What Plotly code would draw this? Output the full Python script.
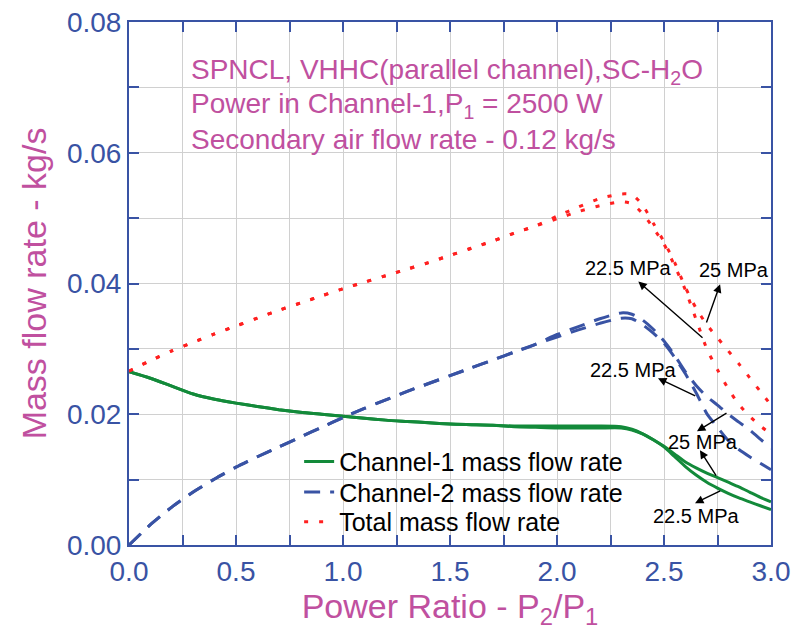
import plotly.graph_objects as go

# ---------------- data ----------------
power_ratio = [0.0, 0.1, 0.2, 0.3, 0.4, 0.5, 0.6, 0.7, 0.8, 0.9, 1.0, 1.1, 1.2, 1.3, 1.4, 1.5,
               1.6, 1.7, 1.8, 1.9, 2.0, 2.1, 2.2, 2.3, 2.35, 2.4, 2.45, 2.5, 2.55, 2.6, 2.65,
               2.7, 2.75, 2.8, 2.85, 2.9, 2.95, 3.0]

ch1_225 = [0.0265, 0.0255, 0.0243, 0.0231, 0.0223, 0.0217, 0.0212, 0.0207, 0.0203, 0.0200,
           0.0197, 0.0194, 0.0191, 0.0189, 0.0187, 0.0185, 0.0184, 0.0183, 0.0182, 0.0182,
           0.0182, 0.0182, 0.0182, 0.0181, 0.0177, 0.0170, 0.0161, 0.0150, 0.0135, 0.0120,
           0.0107, 0.0096, 0.0087, 0.0079, 0.0072, 0.0066, 0.0060, 0.0054]
ch1_25 = [0.0265, 0.0255, 0.0243, 0.0231, 0.0223, 0.0217, 0.0212, 0.0207, 0.0203, 0.0200,
          0.0197, 0.0194, 0.0191, 0.0189, 0.0187, 0.0185, 0.0184, 0.0183, 0.0181, 0.0180,
          0.0179, 0.0179, 0.0179, 0.0179, 0.0176, 0.0170, 0.0161, 0.0151, 0.0139, 0.0127,
          0.0118, 0.0110, 0.0103, 0.0096, 0.0089, 0.0081, 0.0073, 0.0066]

ch2_225 = [0.0, 0.0031, 0.0058, 0.0081, 0.0101, 0.0119, 0.0135, 0.0150, 0.0165, 0.0180,
           0.0195, 0.0209, 0.0222, 0.0235, 0.0247, 0.0259, 0.0271, 0.0283, 0.0295, 0.0307,
           0.0318, 0.0329, 0.0339, 0.0347, 0.0346, 0.0337, 0.0324, 0.0309, 0.0287, 0.0262,
           0.0233, 0.0201, 0.0180, 0.0160, 0.0146, 0.0135, 0.0125, 0.0115]
ch2_25 = [0.0, 0.0031, 0.0058, 0.0081, 0.0101, 0.0119, 0.0135, 0.0150, 0.0165, 0.0180,
          0.0195, 0.0209, 0.0222, 0.0235, 0.0247, 0.0259, 0.0271, 0.0283, 0.0295, 0.0307,
          0.0322, 0.0334, 0.0346, 0.0355, 0.0353, 0.0344, 0.0330, 0.0312, 0.0290, 0.0265,
          0.0244, 0.0227, 0.0214, 0.0200, 0.0188, 0.0176, 0.0162, 0.0148]

tot_225 = [0.0266, 0.0282, 0.0297, 0.0310, 0.0323, 0.0335, 0.0347, 0.0359, 0.0370, 0.0381,
           0.0392, 0.0402, 0.0412, 0.0422, 0.0432, 0.0443, 0.0454, 0.0465, 0.0477, 0.0488,
           0.0499, 0.0510, 0.0519, 0.0525, 0.0522, 0.0507, 0.0485, 0.0460, 0.0427, 0.0390,
           0.0345, 0.0300, 0.0268, 0.0239, 0.0215, 0.0197, 0.0182, 0.0170]
tot_25 = [0.0266, 0.0282, 0.0297, 0.0310, 0.0323, 0.0335, 0.0347, 0.0359, 0.0370, 0.0381,
          0.0392, 0.0402, 0.0412, 0.0422, 0.0432, 0.0443, 0.0454, 0.0465, 0.0477, 0.0488,
          0.0503, 0.0517, 0.0530, 0.0537, 0.0536, 0.0520, 0.0492, 0.0464, 0.0432, 0.0394,
          0.0362, 0.0337, 0.0317, 0.0297, 0.0277, 0.0256, 0.0235, 0.0214]

legend_names = ["Channel-1 mass flow rate", "Channel-2 mass flow rate", "Total mass flow rate"]
x_ticks = [0.0, 0.5, 1.0, 1.5, 2.0, 2.5, 3.0]
y_ticks = [0.00, 0.02, 0.04, 0.06, 0.08]

info_lines = ["SPNCL, VHHC(parallel channel),SC-H<sub>2</sub>O",
              "Power in Channel-1,P<sub>1</sub> = 2500 W",
              "Secondary air flow rate - 0.12 kg/s"]

# pressure labels: (text, x, y)
p_labels = [("22.5 MPa", 2.332, 0.0424), ("25 MPa", 2.827, 0.0420),
            ("22.5 MPa", 2.357, 0.0268), ("25 MPa", 2.680, 0.0158),
            ("22.5 MPa", 2.650, 0.0044)]
# arrows: (tail_x, tail_y, tip_x, tip_y)
p_arrows = [(2.687, 0.0315, 2.380, 0.0403), (2.696, 0.0338, 2.762, 0.0399),
            (2.653, 0.0227, 2.472, 0.0255), (2.799, 0.0203, 2.654, 0.0174),
            (2.748, 0.0104, 2.668, 0.0145), (2.770, 0.0084, 2.645, 0.0064)]

# ---------------- style ----------------
FONT = "Liberation Sans, Arial, Helvetica, sans-serif"
AX = "#3953a4"
MAG = "#c0509f"
GREEN = "#138a3a"
BLUE = "#3953a4"
RED = "#ff2020"
GRID = "#d0d0d0"

fig = go.Figure()

def add(y, color, dash, name, legend, show):
    fig.add_trace(go.Scatter(
        x=power_ratio, y=y, mode="lines", name=name, legend=legend, showlegend=show,
        line=dict(color=color, width=3, dash=dash, shape="spline", smoothing=0.6),
        hoverinfo="skip"))

add(ch1_225, GREEN, "solid", legend_names[0], "legend", True)
add(ch1_25, GREEN, "solid", legend_names[0], "legend", False)
add(ch2_225, BLUE, "16px,10px", legend_names[1], "legend2", True)
add(ch2_25, BLUE, "16px,10px", legend_names[1], "legend2", False)
add(tot_225, RED, "4px,11px", legend_names[2], "legend3", True)
add(tot_25, RED, "4px,11px", legend_names[2], "legend3", False)

annotations = []
for i, t in enumerate(info_lines):
    annotations.append(dict(x=0.28, y=0.0725 - i * 0.0052, xref="x", yref="y", text=t,
                            showarrow=False, xanchor="left", yanchor="middle",
                            font=dict(family=FONT, size=28, color=MAG)))
for t, x, y in p_labels:
    annotations.append(dict(x=x, y=y, xref="x", yref="y", text=t, showarrow=False,
                            xanchor="center", yanchor="middle",
                            font=dict(family=FONT, size=20, color="black")))
for tx, ty, hx, hy in p_arrows:
    annotations.append(dict(x=hx, y=hy, ax=tx, ay=ty, xref="x", yref="y", axref="x", ayref="y",
                            text="", showarrow=True, arrowhead=2, arrowsize=1.2,
                            arrowwidth=1.4, arrowcolor="black", standoff=0, startstandoff=0))

axis_common = dict(
    ticks="inside", ticklen=10, tickwidth=2, tickcolor=AX,
    showline=True, linecolor=AX, linewidth=2, mirror="ticks",
    showgrid=True, gridcolor=GRID, gridwidth=1, zeroline=False,
    tickfont=dict(family=FONT, size=28, color=AX), automargin=False,
)

legend_common = dict(bgcolor="rgba(0,0,0,0)", borderwidth=0, xanchor="left", yanchor="middle",
                     font=dict(family=FONT, size=25, color="black"))

fig.update_layout(
    width=794, height=644,
    margin=dict(l=129, r=23, t=22, b=99),
    paper_bgcolor="white", plot_bgcolor="white",
    font=dict(family=FONT),
    xaxis=dict(range=[0, 3], tickvals=x_ticks, tickformat=".1f",
               minor=dict(dtick=0.25, ticks="inside", ticklen=10, tickwidth=2, tickcolor=AX,
                          showgrid=True, gridcolor=GRID, gridwidth=1),
               title=dict(text="Power Ratio - P<sub>2</sub>/P<sub>1</sub>",
                          font=dict(family=FONT, size=34, color=MAG), standoff=8),
               **axis_common),
    yaxis=dict(range=[0, 0.08], tickvals=y_ticks, tickformat=".2f",
               minor=dict(dtick=0.01, ticks="inside", ticklen=10, tickwidth=2, tickcolor=AX,
                          showgrid=True, gridcolor=GRID, gridwidth=1),
               title=dict(text="Mass flow rate - kg/s",
                          font=dict(family=FONT, size=34, color=MAG), standoff=10),
               **axis_common),
    legend=dict(x=0.265, y=0.159, **legend_common),
    legend2=dict(x=0.265, y=0.101, **legend_common),
    legend3=dict(x=0.265, y=0.044, **legend_common),
    annotations=annotations,
)

fig.write_html("out.html")
